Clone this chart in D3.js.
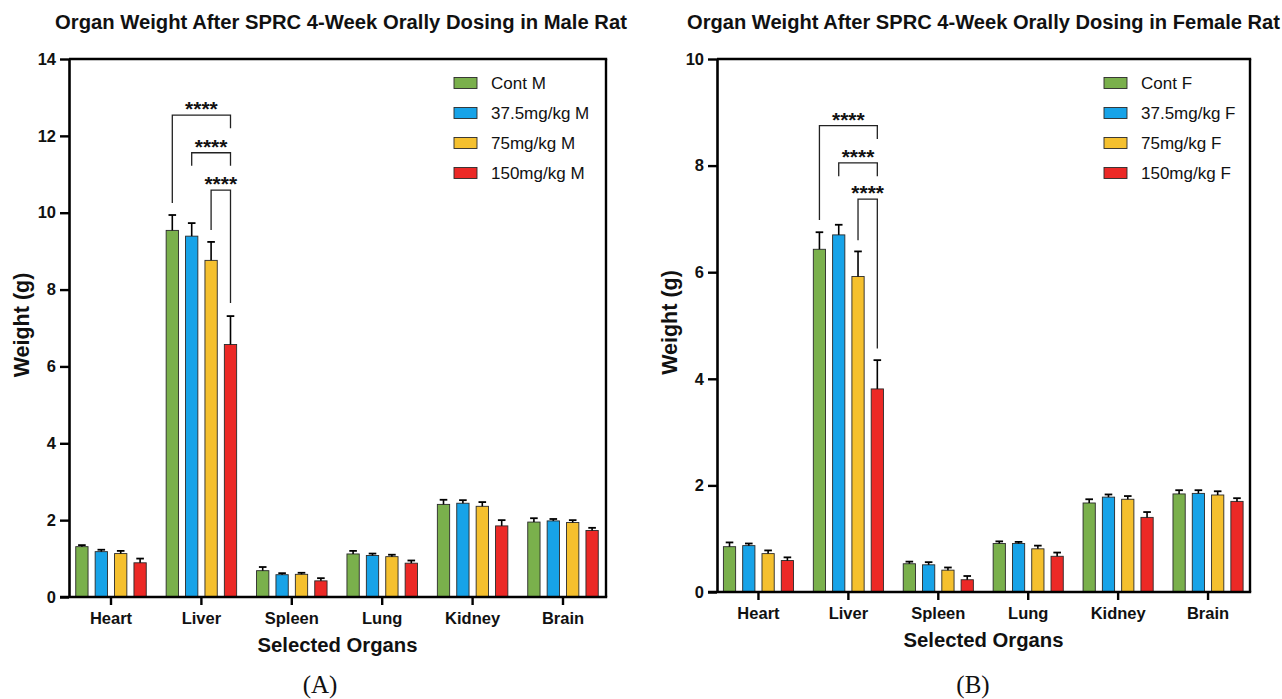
<!DOCTYPE html>
<html>
<head>
<meta charset="utf-8">
<script src="https://cdn.jsdelivr.net/npm/d3@7"></script>
<style>
  html, body { margin: 0; padding: 0; background: #fff; }
  svg { display: block; }
  text { font-family: "Liberation Sans", Arial, Helvetica, sans-serif; fill: #111; }
  text.panel-label { font-family: "Liberation Serif", "DejaVu Serif", "Times New Roman", serif; }
</style>
</head>
<body>
<svg id="chart" width="1282" height="699"></svg>
<script>
// ---------- DATA ----------
const categories = ["Heart", "Liver", "Spleen", "Lung", "Kidney", "Brain"];

const seriesMale = ["Cont M", "37.5mg/kg M", "75mg/kg M", "150mg/kg M"];
const seriesFemale = ["Cont F", "37.5mg/kg F", "75mg/kg F", "150mg/kg F"];
const seriesColors = ["#7AB04C", "#17A3E8", "#F5C02E", "#EC2926"];

// Male means (g)
const maleCont = [1.31, 9.54, 0.685, 1.12, 2.41, 1.95];
const male375  = [1.18, 9.39, 0.58, 1.08, 2.44, 1.98];
const male75   = [1.13, 8.76, 0.59, 1.05, 2.36, 1.94];
const male150  = [0.89, 6.57, 0.42, 0.88, 1.85, 1.73];
// Male error (upper SD)
const maleContErr = [0.04, 0.40, 0.095, 0.08, 0.12, 0.10];
const male375Err  = [0.05, 0.34, 0.04, 0.05, 0.08, 0.05];
const male75Err   = [0.07, 0.48, 0.04, 0.05, 0.11, 0.06];
const male150Err  = [0.11, 0.74, 0.07, 0.07, 0.15, 0.07];

// Female means (g)
const femCont = [0.85, 6.43, 0.53, 0.91, 1.67, 1.84];
const fem375  = [0.87, 6.70, 0.51, 0.91, 1.78, 1.85];
const fem75   = [0.72, 5.92, 0.41, 0.81, 1.74, 1.82];
const fem150  = [0.59, 3.81, 0.23, 0.67, 1.40, 1.70];
// Female error (upper SD)
const femContErr = [0.08, 0.32, 0.04, 0.04, 0.07, 0.07];
const fem375Err  = [0.04, 0.19, 0.05, 0.03, 0.05, 0.06];
const fem75Err   = [0.06, 0.47, 0.05, 0.06, 0.06, 0.07];
const fem150Err  = [0.06, 0.54, 0.07, 0.07, 0.10, 0.06];

// Axis ticks
const maleTicks = [0, 2, 4, 6, 8, 10, 12, 14];
const femaleTicks = [0, 2, 4, 6, 8, 10];

// Significance brackets (Liver group): from series index -> to series index
const sigCategory = "Liver";
const sigFrom = [0, 1, 2];
const sigTo = [3, 3, 3];
const sigLabel = ["****", "****", "****"];
const maleSigLevel = [12.54, 11.56, 10.59];
const maleSigLeftEnd = [10.25, 11.22, 9.55];
const maleSigRightEnd = [12.2, 11.22, 7.65];
const femSigLevel = [8.75, 8.05, 7.37];
const femSigLeftEnd = [6.98, 7.8, 6.6];
const femSigRightEnd = [8.5, 7.8, 4.57];

// ---------- DRAW ----------
const svg = d3.select("#chart");

function fitText(sel, target) {
  const len = sel.node().getComputedTextLength();
  const fs = parseFloat(sel.attr("font-size"));
  sel.attr("font-size", (fs * target / len).toFixed(2));
}

function drawPanel(cfg) {
  const g = svg.append("g");
  const { frame } = cfg;

  const y = d3.scaleLinear().domain([0, cfg.yMax]).range([frame.bottom, frame.top]);
  const x = d3.scaleBand().domain(categories).range(cfg.bandRange).paddingInner(0).paddingOuter(0);
  const pitch = x.step() * 0.2146;
  const xs = d3.scaleBand().domain(d3.range(4)).range([-2 * pitch, 2 * pitch])
    .paddingInner(0.366).paddingOuter(0.183);
  const cx = c => x(c) + x.bandwidth() / 2;

  // bars
  cfg.means.forEach((vals, si) => {
    const sg = g.append("g");
    sg.selectAll("rect").data(categories).join("rect")
      .attr("x", (c) => cx(c) + xs(si))
      .attr("width", xs.bandwidth())
      .attr("y", (c, i) => y(vals[i]))
      .attr("height", (c, i) => y(0) - y(vals[i]))
      .attr("fill", seriesColors[si])
      .attr("stroke", "#2a2a2a")
      .attr("stroke-width", 0.9);
    // error bars (upper only)
    const errs = cfg.errs[si];
    const eg = sg.selectAll("g.err").data(categories).join("g").attr("class", "err");
    eg.append("line")
      .attr("x1", c => cx(c) + xs(si) + xs.bandwidth() / 2)
      .attr("x2", c => cx(c) + xs(si) + xs.bandwidth() / 2)
      .attr("y1", (c, i) => y(vals[i]))
      .attr("y2", (c, i) => y(vals[i] + errs[i]))
      .attr("stroke", "#000").attr("stroke-width", 1.6);
    eg.append("line")
      .attr("x1", c => cx(c) + xs(si) + xs.bandwidth() / 2 - 3.8)
      .attr("x2", c => cx(c) + xs(si) + xs.bandwidth() / 2 + 3.8)
      .attr("y1", (c, i) => y(vals[i] + errs[i]))
      .attr("y2", (c, i) => y(vals[i] + errs[i]))
      .attr("stroke", "#000").attr("stroke-width", 1.8);
  });

  // frame top and right
  g.append("line").attr("x1", frame.left).attr("x2", frame.right + 1.2)
    .attr("y1", frame.top).attr("y2", frame.top).attr("stroke", "#000").attr("stroke-width", 2.4);
  g.append("line").attr("x1", frame.right).attr("x2", frame.right)
    .attr("y1", frame.top).attr("y2", frame.bottom).attr("stroke", "#000").attr("stroke-width", 2.4);

  // y axis
  const yAxis = d3.axisLeft(y).tickValues(cfg.ticks).tickSize(9).tickPadding(4).tickSizeOuter(0);
  const ya = g.append("g").attr("transform", `translate(${frame.left},0)`).call(yAxis);
  ya.select(".domain").attr("stroke", "#000").attr("stroke-width", 2.6);
  ya.selectAll(".tick line").attr("stroke", "#000").attr("stroke-width", 2.4);
  ya.selectAll(".tick text").attr("font-size", 16.5).attr("font-weight", "bold").attr("fill", "#111");

  // x axis
  const xAxis = d3.axisBottom(x).tickSize(8).tickPadding(7).tickSizeOuter(0);
  const xa = g.append("g").attr("transform", `translate(0,${frame.bottom})`).call(xAxis);
  xa.select(".domain").attr("d", `M${frame.left - 9},0H${frame.right + 1.2}`)
    .attr("stroke", "#000").attr("stroke-width", 2.6);
  xa.selectAll(".tick line").attr("stroke", "#000").attr("stroke-width", 2.4);
  xa.selectAll(".tick text").attr("font-size", 16.5).attr("font-weight", "bold").attr("fill", "#111");

  // significance brackets
  sigFrom.forEach((fi, k) => {
    const xl = cx(sigCategory) + xs(fi) + xs.bandwidth() / 2;
    const xr = cx(sigCategory) + xs(sigTo[k]) + xs.bandwidth() / 2;
    const yl = y(cfg.sigLevel[k]);
    g.append("path")
      .attr("d", `M${xl},${y(cfg.sigLeftEnd[k])}V${yl}H${xr}V${y(cfg.sigRightEnd[k])}`)
      .attr("fill", "none").attr("stroke", "#222").attr("stroke-width", 1.3);
    g.append("text")
      .attr("x", (xl + xr) / 2).attr("y", yl + 1)
      .attr("text-anchor", "middle")
      .attr("font-size", 21).attr("font-weight", "bold")
      .text(sigLabel[k]);
  });

  // legend
  const lg = g.append("g");
  cfg.series.forEach((s, i) => {
    const ly = cfg.legend.y0 + i * 30;
    lg.append("rect").attr("x", cfg.legend.x).attr("y", ly - 5.5)
      .attr("width", 23).attr("height", 11)
      .attr("fill", seriesColors[i]).attr("stroke", "#2a2a2a").attr("stroke-width", 0.9);
    lg.append("text").attr("x", cfg.legend.x + 37).attr("y", ly)
      .attr("dy", "0.35em").attr("font-size", 17).text(s);
  });

  // title
  const t = g.append("text").attr("x", cfg.titleX).attr("y", 22).attr("dy", "0.35em")
    .attr("text-anchor", "middle").attr("font-size", 17).attr("font-weight", "bold")
    .text(cfg.title);
  fitText(t, cfg.titleWidth);

  // y label
  g.append("text")
    .attr("transform", `translate(${cfg.yLabelX},${(frame.top + frame.bottom) / 2 - 3}) rotate(-90)`)
    .attr("text-anchor", "middle").attr("dy", "0.35em")
    .attr("font-size", 21.5).attr("font-weight", "bold").text("Weight (g)");

  // x label
  g.append("text").attr("x", (frame.left + frame.right) / 2).attr("y", frame.bottom + 48)
    .attr("dy", "0.35em").attr("text-anchor", "middle")
    .attr("font-size", 20.3).attr("font-weight", "bold").text("Selected Organs");

  // panel label
  g.append("text").attr("class", "panel-label")
    .attr("x", cfg.panelX).attr("y", 684).attr("dy", "0.35em")
    .attr("text-anchor", "middle").attr("font-size", 25)
    .text(cfg.panel);
}

drawPanel({
  frame: { left: 69, right: 606, top: 59, bottom: 597 },
  bandRange: [65.8, 608.2],
  yMax: 14,
  ticks: maleTicks,
  series: seriesMale,
  means: [maleCont, male375, male75, male150],
  errs: [maleContErr, male375Err, male75Err, male150Err],
  sigLevel: maleSigLevel, sigLeftEnd: maleSigLeftEnd, sigRightEnd: maleSigRightEnd,
  legend: { x: 454, y0: 83 },
  title: "Organ Weight After SPRC 4-Week Orally Dosing in Male Rat",
  titleX: 341, titleWidth: 572,
  yLabelX: 21,
  panel: "(A)", panelX: 320
});

drawPanel({
  frame: { left: 717, right: 1250, top: 59, bottom: 592 },
  bandRange: [713.5, 1253],
  yMax: 10,
  ticks: femaleTicks,
  series: seriesFemale,
  means: [femCont, fem375, fem75, fem150],
  errs: [femContErr, fem375Err, fem75Err, fem150Err],
  sigLevel: femSigLevel, sigLeftEnd: femSigLeftEnd, sigRightEnd: femSigRightEnd,
  legend: { x: 1104, y0: 83 },
  title: "Organ Weight After SPRC 4-Week Orally Dosing in Female Rat",
  titleX: 983.5, titleWidth: 593,
  yLabelX: 669,
  panel: "(B)", panelX: 973
});
</script>
</body>
</html>
